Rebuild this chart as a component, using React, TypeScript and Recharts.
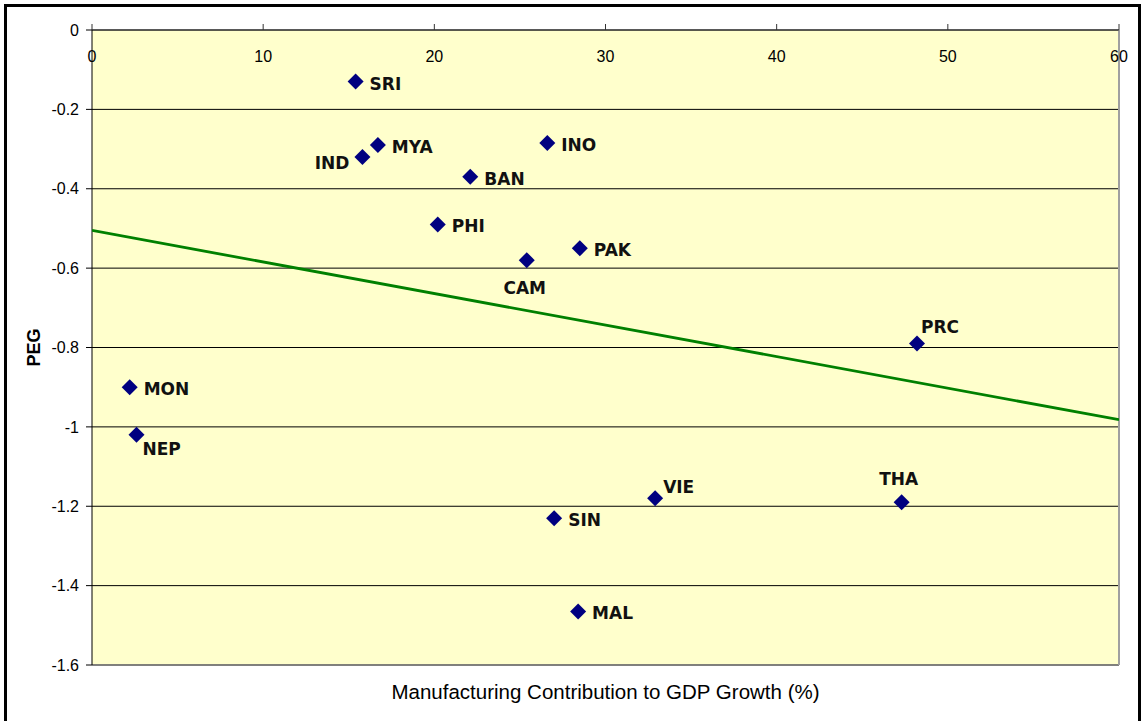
import React from "react";
import {
  ScatterChart,
  Scatter,
  XAxis,
  YAxis,
  CartesianGrid,
  ReferenceLine,
} from "recharts";

// country codes and their readings, same order in every array
const countries = ["SRI", "MYA", "IND", "INO", "BAN", "PHI", "PAK", "CAM", "PRC", "MON", "NEP", "VIE", "THA", "SIN", "MAL"];
const mfgContribution = [15.4, 16.7, 15.8, 26.6, 22.1, 20.2, 28.5, 25.4, 48.2, 2.2, 2.6, 32.9, 47.3, 27.0, 28.4];
const peg = [-0.13, -0.29, -0.32, -0.285, -0.37, -0.49, -0.55, -0.58, -0.79, -0.9, -1.02, -1.18, -1.19, -1.23, -1.465];

// linear trend line end points
const trendX = [0, 60];
const trendY = [-0.505, -0.982];

const xTicks = [0, 10, 20, 30, 40, 50, 60];
const yTicks = [0, -0.2, -0.4, -0.6, -0.8, -1, -1.2, -1.4, -1.6];

const points = countries.map((name, i) => ({ name, x: mfgContribution[i], y: peg[i] }));
const trend = trendX.map((x, i) => ({ x, y: trendY[i] }));

type Place = { dx: number; dy: number; anchor: "start" | "middle" | "end" };
const right: Place = { dx: 14, dy: 2, anchor: "start" };
const labelPlace: Record<string, Place> = {
  IND: { dx: -13, dy: 6, anchor: "end" },
  CAM: { dx: -2, dy: 28, anchor: "middle" },
  NEP: { dx: 6, dy: 14, anchor: "start" },
  VIE: { dx: 8, dy: -11, anchor: "start" },
  PRC: { dx: 4, dy: -17, anchor: "start" },
  THA: { dx: -3, dy: -23, anchor: "middle" },
};

const Diamond = (props: any) => {
  const { cx, cy, payload } = props;
  const r = 8;
  const p = labelPlace[payload.name] || right;
  return (
    <g>
      <polygon
        points={`${cx},${cy - r} ${cx + r},${cy} ${cx},${cy + r} ${cx - r},${cy}`}
        fill="#000080"
      />
      <text
        x={cx + p.dx}
        y={cy + p.dy}
        textAnchor={p.anchor}
        dominantBaseline="central"
        fontFamily="'DejaVu Sans', Verdana, sans-serif"
        fontWeight="bold"
        fontSize={17}
        fill="#111"
      >
        {payload.name}
      </text>
    </g>
  );
};

const font = "'Liberation Sans', Arial, sans-serif";
const tickFont = { fill: "#000", fontSize: 16, fontFamily: font };

export default function App() {
  return (
    <div
      style={{
        position: "absolute",
        left: 0,
        top: 0,
        width: 1141,
        height: 721,
        overflow: "hidden",
        background: "#fff",
      }}
    >
      <div
        style={{
          position: "absolute",
          left: 4,
          top: 4,
          width: 1137,
          height: 740,
          border: "3px solid #000",
          boxSizing: "border-box",
        }}
      />
      <div style={{ position: "absolute", left: 0, top: 0 }}>
        <ScatterChart width={1141} height={721} margin={{ top: 0, right: 22, bottom: 56, left: 0 }}>
          <CartesianGrid vertical={false} stroke="#000" fill="#FFFFCC" fillOpacity={1} />
          <XAxis
            type="number"
            dataKey="x"
            orientation="top"
            height={30}
            domain={[0, 60]}
            ticks={xTicks}
            interval={0}
            allowDataOverflow
            stroke="#333"
            tickSize={6}
            tickMargin={-38}
            tick={tickFont}
            fontSize={16}
            fontFamily={font}
          />
          <YAxis
            type="number"
            dataKey="y"
            width={92}
            domain={[-1.6, 0]}
            ticks={yTicks}
            interval={0}
            allowDataOverflow
            stroke="#000"
            tickSize={6}
            tickMargin={7}
            tick={tickFont}
            fontSize={16}
            fontFamily={font}
            label={{
              content: (p: any) => {
                const vb = p.viewBox || { x: 0, y: 0, height: 635 };
                const x = vb.x + 34;
                const y = vb.y + vb.height / 2;
                return (
                  <text
                    x={x}
                    y={y}
                    transform={`rotate(-90, ${x}, ${y})`}
                    textAnchor="middle"
                    dominantBaseline="central"
                    fontFamily={font}
                    fontWeight="bold"
                    fontSize={18}
                    fill="#000"
                  >
                    PEG
                  </text>
                );
              },
            }}
          />
          <ReferenceLine y={-1.6} stroke="#808080" strokeWidth={1.5} />
          <ReferenceLine x={60} stroke="#a0a0a0" strokeWidth={2} />
          <Scatter
            data={trend}
            line={{ stroke: "#008000", strokeWidth: 2.8 }}
            shape={() => <g />}
            isAnimationActive={false}
          />
          <Scatter data={points} shape={Diamond} isAnimationActive={false} />
        </ScatterChart>
      </div>
      <div
        style={{
          position: "absolute",
          left: 92,
          width: 1027,
          top: 680,
          textAlign: "center",
          fontFamily: font,
          fontSize: 20.5,
          color: "#000",
        }}
      >
        Manufacturing Contribution to GDP Growth (%)
      </div>
    </div>
  );
}
